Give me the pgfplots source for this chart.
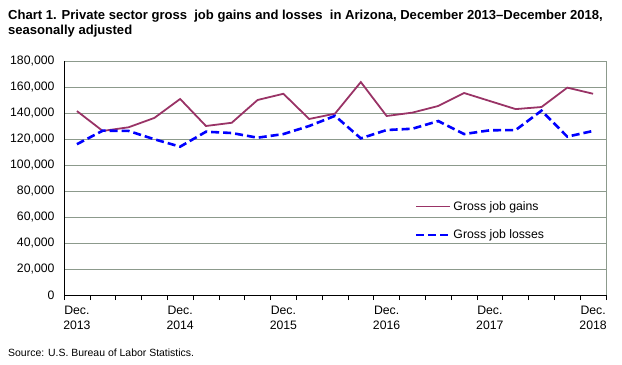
\documentclass[border=0pt]{standalone}
\usepackage{pgfplots}
\pgfplotsset{compat=1.18}
\usepackage{fontspec}
\setmainfont{Liberation Sans}
\definecolor{gains}{HTML}{993366}
\definecolor{losses}{HTML}{0000FF}
\definecolor{gridc}{HTML}{8C9A8C}
\begin{document}
\begin{tikzpicture}[x=1bp,y=1bp]
\useasboundingbox (0,0) rectangle (622,364);
\begin{axis}[
  at={(64bp,69bp)}, anchor=south west,
  width=542bp, height=234bp, scale only axis,
  xmin=-0.5, xmax=20.5, ymin=0, ymax=180000,
  ytick={0,20000,40000,60000,80000,100000,120000,140000,160000,180000},
  yticklabels={0,{20,000},{40,000},{60,000},{80,000},{100,000},{120,000},{140,000},{160,000},{180,000}},
  yticklabel style={font=\fontsize{12.3}{14}\selectfont, xshift=-1bp},
  scaled y ticks=false,
  ymajorgrids, grid style={gridc, line width=0.7pt},
  xtick={-0.5,0.5,...,20.5}, xticklabels={},
  major tick length=5bp,
  x tick style={black, line width=0.6pt},
  xtick pos=bottom, tick align=outside,
  ytick style={draw=none},
  extra x ticks={0,4,8,12,16,20},
  extra x tick labels={{Dec.\\2013},{Dec.\\2014},{Dec.\\2015},{Dec.\\2016},{Dec.\\2017},{Dec.\\2018}},
  extra x tick style={tick style={draw=none}, grid=none, ticklabel style={font=\fontsize{12.3}{14.5}\selectfont, align=center, yshift=-3bp}},
  axis line style={draw=none},
  clip=false,
  legend image code/.code={\draw[#1] (0bp,0bp) -- (34bp,0bp);},
  legend style={draw=none, fill=none, at={(0.647,0.41)}, anchor=north west, font=\fontsize{12.3}{14}\selectfont, row sep=14bp, inner sep=0pt},
  legend cell align=left,
]
\draw[gridc, line width=0.7pt] (rel axis cs:1,0) -- (rel axis cs:1,1);
\draw[gridc, line width=0.7pt] (rel axis cs:0,1) -- (rel axis cs:1,1);
\draw[black, line width=0.8pt] (rel axis cs:0,1) -- (rel axis cs:0,0) -- (rel axis cs:1,0);
\addplot[gains, line width=1.8pt, no markers] coordinates {
(0,141500) (1,126200) (2,129000) (3,136200) (4,150800) (5,130000) (6,132500)
(7,150000) (8,154800) (9,135400) (10,139500) (11,163800) (12,137700) (13,140300)
(14,145400) (15,155400) (16,149200) (17,143000) (18,144600) (19,159500) (20,154800)};
\addlegendentry{Gross job gains}
\addplot[losses, line width=2.6pt, dash pattern=on 8bp off 4bp, no markers] coordinates {
(0,116000) (1,126400) (2,126200) (3,119800) (4,114100) (5,125600) (6,124600)
(7,121000) (8,123800) (9,130000) (10,137800) (11,120500) (12,126900) (13,127900)
(14,133800) (15,123800) (16,126700) (17,126900) (18,141800) (19,121800) (20,126200)};
\addlegendentry{Gross job losses}
\end{axis}
\node[anchor=north west, align=left, font=\bfseries\fontsize{13.1}{15}\selectfont, inner sep=0pt] at (8,354) {Chart 1. Private sector gross \ job gains and losses \ in Arizona, December 2013--December 2018,\\seasonally adjusted};
\node[anchor=west, font=\fontsize{10.5}{12}\selectfont, inner sep=0pt] at (8,11) {Source: U.S. Bureau of Labor Statistics.};
\end{tikzpicture}
\end{document}
